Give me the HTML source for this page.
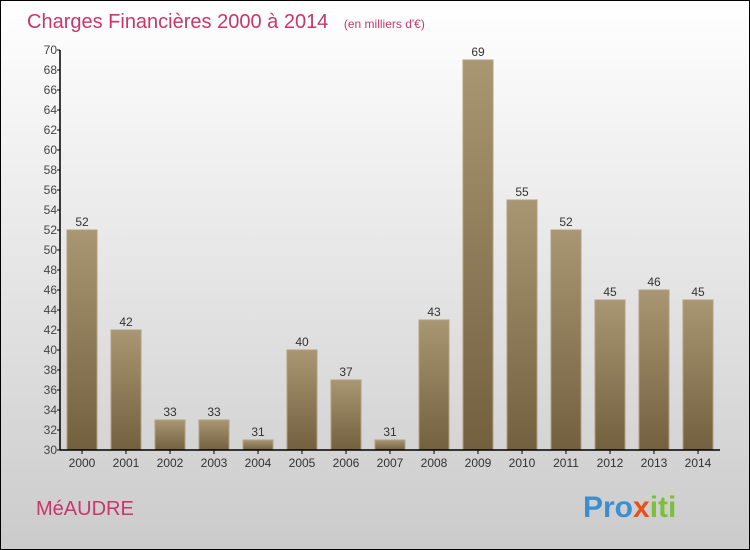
<!DOCTYPE html>
<html><head><meta charset="utf-8"><style>
body{margin:0}
#c{width:748px;height:548px;border:1px solid #000;background:linear-gradient(#fff,#cbcbcb);position:relative;overflow:hidden;font-family:"Liberation Sans",sans-serif}
</style></head><body>
<div id="c">
<svg id="s" width="748" height="548" xmlns="http://www.w3.org/2000/svg">
<defs><linearGradient id="g" x1="0" y1="0" x2="0" y2="1"><stop offset="0" stop-color="#a99672"/><stop offset="1" stop-color="#73603f"/></linearGradient></defs>
<text x="26" y="27" font-size="20" fill="#c8366a">Charges Financières 2000 à 2014 <tspan font-size="12" dx="10">(en milliers d'€)</tspan></text>
<text x="35" y="514" font-size="20" fill="#c8366a">MéAUDRE</text>
<text x="582" y="516" font-size="30" font-weight="bold" fill="#3a8fd0">Pro<tspan fill="#e8501a">x</tspan><tspan fill="#7cbf3a">iti</tspan></text>
<g id="plot"></g>
</svg></div>
<script>
const years=["2000","2001","2002","2003","2004","2005","2006","2007","2008","2009","2010","2011","2012","2013","2014"];
const values=[52,42,33,33,31,40,37,31,43,69,55,52,45,46,45];
const yTicks=[30,32,34,36,38,40,42,44,46,48,50,52,54,56,58,60,62,64,66,68,70];
const x0=59,slot=44,yTop=49,yBot=449,vMin=30,vMax=70;
const ys=v=>yBot-(v-vMin)/(vMax-vMin)*(yBot-yTop);
const g=document.getElementById('plot');const NS="http://www.w3.org/2000/svg";
function mk(t,a){const e=document.createElementNS(NS,t);for(const k in a)e.setAttribute(k,a[k]);g.appendChild(e);return e;}
values.forEach((v,i)=>{
 const r=mk('rect',{x:x0+i*slot+7,y:ys(v),width:30,height:yBot-ys(v),fill:'url(#g)',stroke:'#b0a080','stroke-width':1});
 
 
 const t=mk('text',{x:x0+i*slot+22,y:ys(v)-4,'font-size':12,'text-anchor':'middle',fill:'#333'});t.textContent=v;
 
 
 const xl=mk('text',{x:x0+i*slot+22,y:466,'font-size':12,'text-anchor':'middle',fill:'#333'});xl.textContent=years[i];
 
 
 const tk=mk('line',{x1:x0+i*slot+22,x2:x0+i*slot+22,y1:yBot,y2:yBot+4,stroke:'#000'});
 
 
});
yTicks.forEach(v=>{
 const l=mk('line',{x1:x0-3,x2:x0,y1:ys(v),y2:ys(v),stroke:'#000'});
 
 
 const t=mk('text',{x:x0-3,y:ys(v)+4,'font-size':12,'text-anchor':'end',fill:'#444'});t.textContent=v;
 
 
});
const ya=mk('line',{x1:x0,x2:x0,y1:yTop,y2:yBot,stroke:'#000','stroke-width':1.5});


const xa=mk('line',{x1:x0,x2:x0+15*slot,y1:yBot,y2:yBot,stroke:'#000','stroke-width':1.5});


</script>
</body></html>
